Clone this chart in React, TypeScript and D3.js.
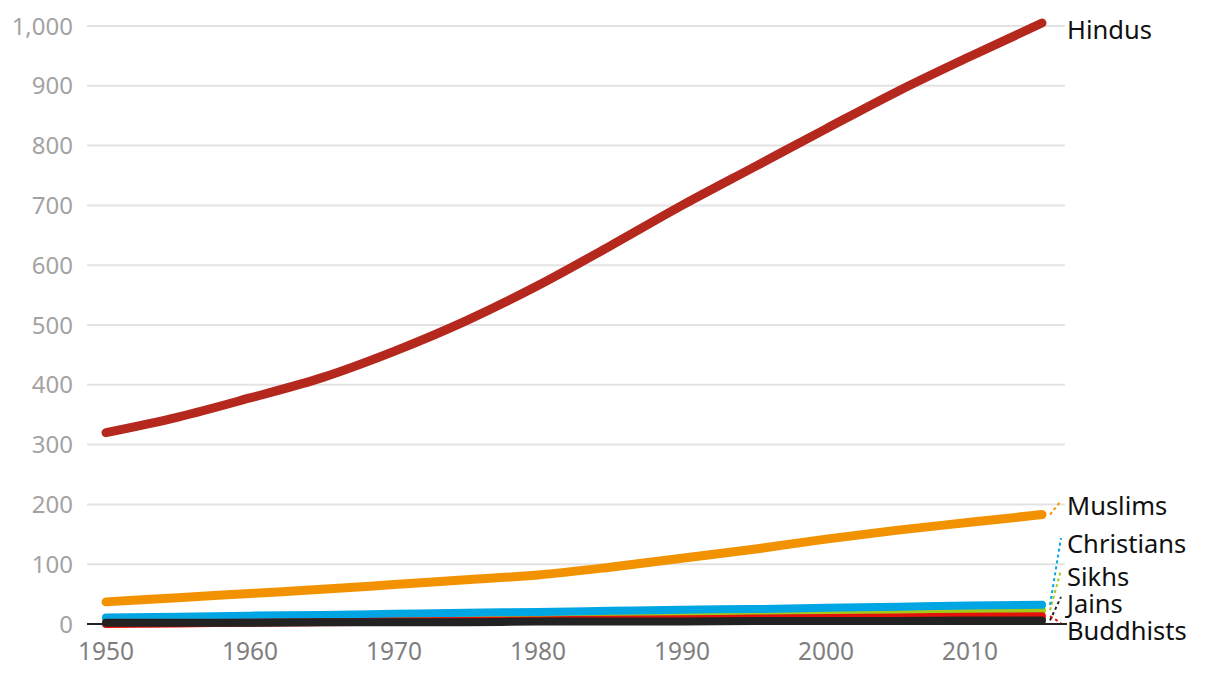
import React from "react";
import * as d3 from "d3";

const years = [1950, 1955, 1960, 1965, 1970, 1975, 1980, 1985, 1990, 1995, 2000, 2005, 2010, 2015];
const hindus = [320, 346, 378, 412, 456, 507, 566, 632, 700, 764, 828, 891, 949, 1005];
const muslims = [37, 44, 51, 58, 66, 74, 82, 95, 110, 125, 142, 157, 170, 183];
const christians = [11, 12, 14, 15, 17, 19, 20, 22, 24, 25, 27, 29, 31, 32];
const sikhs = [7, 8, 9, 10, 12, 13, 14, 16, 17, 18, 20, 21, 22, 23];
const buddhists = [0, 1, 2, 3, 4, 5, 6, 7, 8, 9, 10, 11, 12, 13];
const jains = [2, 2, 2, 3, 3, 3, 4, 4, 4, 5, 5, 5, 6, 6];

const yTicks = [0, 100, 200, 300, 400, 500, 600, 700, 800, 900, 1000];
const xTicks = [1950, 1960, 1970, 1980, 1990, 2000, 2010];

const series = [
  { name: "Sikhs", values: sikhs, color: "#a5c81a", labelY: 577 },
  { name: "Christians", values: christians, color: "#00a5e3", labelY: 544 },
  { name: "Buddhists", values: buddhists, color: "#e3120b", labelY: 631 },
  { name: "Jains", values: jains, color: "#222222", labelY: 604 },
  { name: "Muslims", values: muslims, color: "#f39200", labelY: 506 },
  { name: "Hindus", values: hindus, color: "#b5281e", labelY: 30 },
];

export default function App() {
  const W = 1220, H = 678;
  const x = d3.scaleLinear().domain([1950, 2010]).range([106, 970]);
  const y = d3.scaleLinear().domain([0, 1000]).range([624, 26]);
  const font = "'Noto Sans', sans-serif";
  const lastX = x(2015);
  return (
    <svg width={W} height={H} style={{ position: "absolute", left: 0, top: 0 }}>
      {yTicks.map((t) => (
        <g key={t}>
          {t !== 0 && (
            <line x1={87} x2={1065} y1={y(t)} y2={y(t)} stroke="#e3e3e3" strokeWidth={2} />
          )}
          <text x={73} y={y(t)} dy="0.36em" textAnchor="end" fontFamily={font} fontSize={24} fill="#a3a3a3">
            {d3.format(",")(t)}
          </text>
        </g>
      ))}
      {xTicks.map((t) => (
        <text key={t} x={x(t)} y={660} textAnchor="middle" fontFamily={font} fontSize={24.5} fill="#7f7f7f">
          {t}
        </text>
      ))}
      <line x1={87} x2={1067} y1={y(0)} y2={y(0)} stroke="#222" strokeWidth={2} />
      {series.map((s) => {
        const line = d3
          .line<number>()
          .x((_, i) => x(years[i]))
          .y((v) => y(v))
          .curve(d3.curveMonotoneX);
        return (
          <path key={s.name} d={line(s.values) || ""} fill="none" stroke={s.color} strokeWidth={s.name === "Hindus" || s.name === "Muslims" ? 9 : 8} strokeLinecap="round" strokeLinejoin="round" />
        );
      })}
      {series.map((s) => {
        const endY = y(s.values[s.values.length - 1]);
        const isHindu = s.name === "Hindus";
        const leaderY = s.name === "Muslims" ? 501 : s.name === "Christians" ? 538 : s.name === "Sikhs" ? 570 : s.name === "Jains" ? 597 : 623;
        return (
          <g key={s.name + "lbl"}>
            {!isHindu && (
              <line x1={lastX + 8} y1={endY} x2={1061} y2={leaderY} stroke={s.color} strokeWidth={2} strokeDasharray="3,3" />
            )}
            <text x={1067} y={s.labelY} dy="0.35em" fontFamily={font} fontSize={25.5} fill="#111">
              {s.name}
            </text>
          </g>
        );
      })}
    </svg>
  );
}
